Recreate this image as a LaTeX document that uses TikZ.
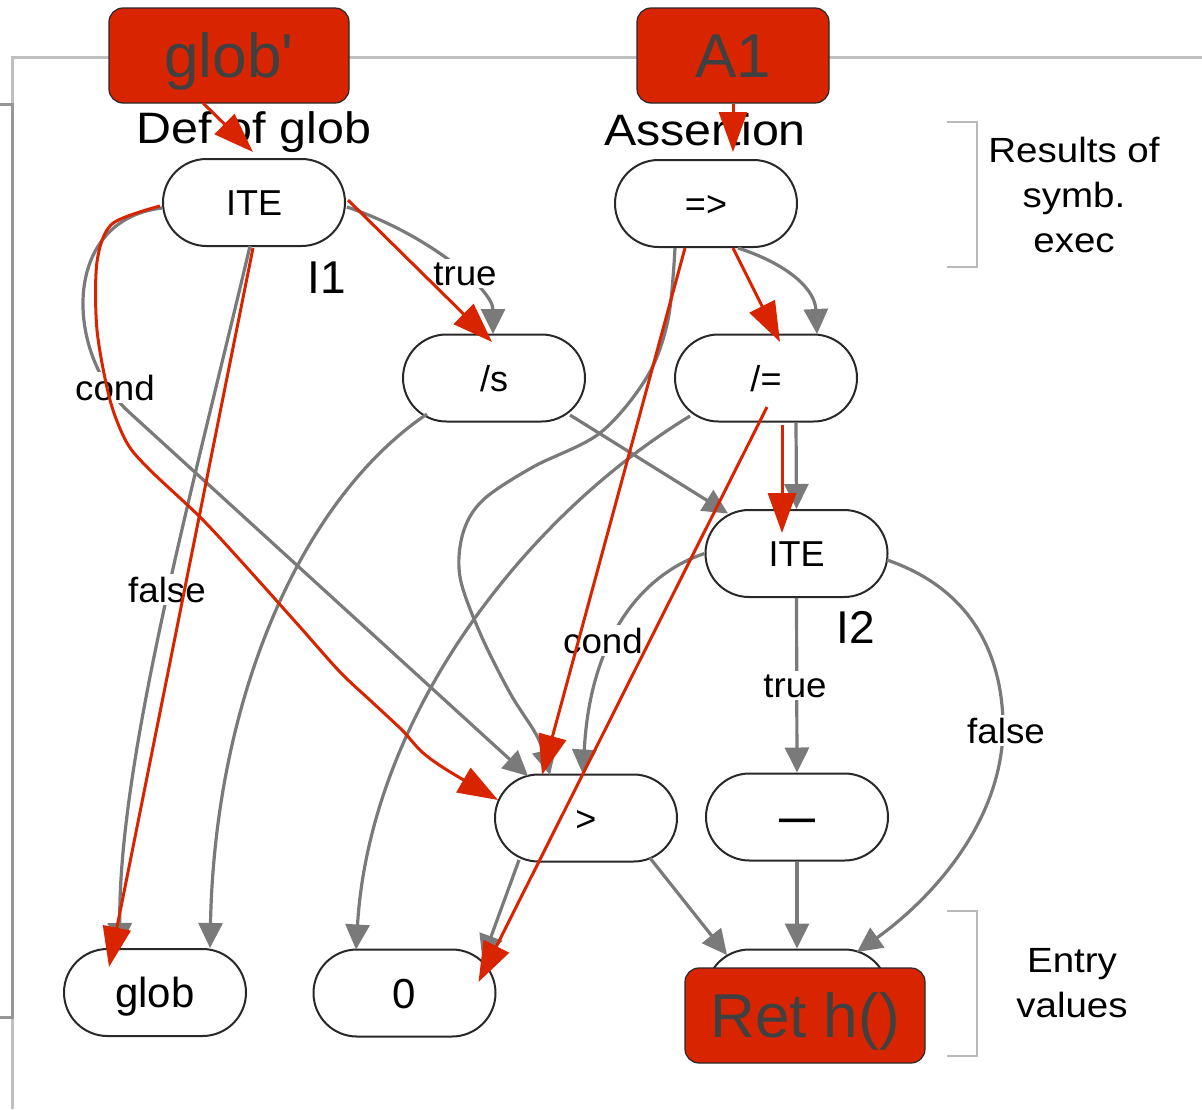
\documentclass[tikz,border=0pt]{standalone}
\usepackage{fontspec}
\setmainfont{Liberation Sans}
\newfontfamily\lblfont[FakeStretch=1.05]{Liberation Sans}
\newfontfamily\hdfont[FakeStretch=1.1]{Liberation Sans}
\newfontfamily\tagfont[Ligatures=TeXOff]{Liberation Sans}
\usetikzlibrary{shapes.misc,arrows.meta,calc}

\definecolor{annot}{RGB}{217,36,0}
\definecolor{edgegray}{RGB}{122,122,122}
\definecolor{pillline}{RGB}{40,40,40}
\definecolor{boxtext}{RGB}{64,64,64}
\definecolor{framelight}{RGB}{192,192,192}
\definecolor{framedark}{RGB}{150,150,150}
\definecolor{bracketgray}{RGB}{185,185,185}

\tikzset{
  pill/.style={rounded rectangle, draw=pillline, line width=2pt, fill=white,
    minimum width=182pt, minimum height=87pt, inner sep=0pt,
    text height=26pt, text depth=0pt, font=\fontsize{36}{43}\selectfont},
  bigpill/.style={pill, text height=30pt, font=\fontsize{42}{50}\selectfont},
  tag/.style={rectangle, rounded corners=14pt, draw=pillline, line width=1.2pt,
    fill=annot, text=boxtext, minimum width=240pt, minimum height=95pt,
    inner sep=0pt, text height=44pt, text depth=0pt,
    font=\tagfont\fontsize{62}{74}\selectfont},
  gedge/.style={draw=edgegray, line width=3.2pt, -{Triangle[length=25pt,width=24pt]}},
  redge/.style={draw=annot, line width=3pt, -{Triangle[length=40pt,width=28pt]}},
  elabel/.style={fill=white, inner sep=3pt, anchor=base,
    font=\lblfont\fontsize{35}{42}\selectfont},
  title/.style={anchor=base, inner sep=0pt, font=\hdfont\fontsize{44}{52}\selectfont},
  side/.style={align=center, anchor=north, inner sep=0pt,
    font=\hdfont\fontsize{35}{45}\selectfont},
  tagname/.style={anchor=base, inner sep=0pt, font=\fontsize{46}{55}\selectfont},
  bracket/.style={draw=bracketgray, line width=1.5pt},
}

\begin{document}
\begin{tikzpicture}[x=1pt, y=-1pt]
  \fill[white] (0,0) rectangle (1202,1109);
  \useasboundingbox (0,0) rectangle (1202,1109);

  % slide frames
  \draw[framelight, line width=3pt] (12,1109) -- (12,57) -- (1202,57);
  \draw[framedark, line width=3pt] (0,104) -- (12,104) -- (12,1017) -- (0,1017);

  % side brackets
  \draw[bracket] (947,122) -- (977,122) -- (977,267) -- (947,267);
  \draw[bracket] (947,911) -- (977,911) -- (977,1056) -- (947,1056);

  % expression nodes
  \node[pill] (ite1) at (254,202.5) {ITE};
  \node[pill] (imp) at (706,203.5) {=>};
  \node[pill] (sl) at (494,378) {/s};
  \node[pill] (ne) at (766,378) {/=};
  \node[pill] (ite2) at (796.5,553.5) {ITE};
  \node[pill] (gt) at (586,818) {>};
  \node[pill] (minus) at (797,817) {\textbf{—}};
  \node[bigpill] (glob) at (155,992.5) {glob};
  \node[bigpill] (zero) at (404.5,993) {0};
  \node[pill] (ret) at (797,993) {};

  % graph edges
  \draw[gedge] ($(ite1)+(93,4.5)$) .. controls (430,235) and (493,290) .. ($(sl)+(-1,-44)$);
  \draw[gedge] ($(ite1)+(-92,5.5)$) .. controls (60,220) and (65,355) .. (130,413) -- ($(gt)+(-58,-42)$);
  \draw[gedge] ($(ite1)+(-4,43.5)$) .. controls (195,480) and (118,760) .. ($(glob)+(-35,-44.5)$);
  \draw[gedge] ($(sl)+(-67,36)$) .. controls (300,500) and (215,700) .. ($(glob)+(55,-44.5)$);
  \draw[gedge] ($(sl)+(76,37)$) -- ($(ite2)+(-68.5,-40)$);
  \draw[gedge] ($(imp)+(32,44.5)$) .. controls (790,265) and (815,290) .. ($(ne)+(51,-44)$);
  \coordinate (g7s) at ($(imp)+(-31,44.5)$);
  \coordinate (g7e) at ($(gt)+(-36,-43)$);
  \draw[gedge] plot[smooth, tension=0.55] coordinates {(g7s) (668,320) (647,377) (600,433)
    (533,467) (483,500) (463,533) (460,577) (480,633) (510,693) (538,738) (g7e)};
  \draw[gedge] ($(ne)+(-76,38)$) .. controls (520,520) and (370,720) .. ($(zero)+(-48.5,-43.5)$);
  \draw[gedge] ($(ne.south)+(30,0)$) -- (ite2.north);
  \draw[gedge] (ite2.west) .. controls (640,575) and (590,640) .. ($(gt)+(-3,-43.5)$);
  \draw[gedge] (ite2.south) -- (minus.north);
  \draw[gedge] ($(ite2)+(90.5,6.5)$) .. controls (960,585) and (1000,640) .. (1003,720)
    .. controls (1006,820) and (930,900) .. ($(ret)+(60,-41)$);
  \draw[gedge] ($(gt)+(-67,42)$) -- ($(zero)+(78,-33)$);
  \draw[gedge] ($(gt)+(64,40)$) -- ($(ret)+(-70,-38)$);
  \draw[gedge] (minus.south) -- (ret.north);

  % edge labels
  \node[elabel] (lt1) at (465,285) {true};
  \node[elabel] (lc1) at (115,400) {cond};
  \node[elabel] (lf1) at (167,602) {false};
  \node[elabel] (lc2) at (603,653) {cond};
  \node[elabel] (lt2) at (795,697) {true};
  \node[elabel] (lf2) at (1006,743) {false};

  % titles and tags
  \node[title] (tdef) at (254,143) {Def of glob};
  \node[title] (tass) at (705,145) {Assertion};
  \node[tagname] (i1) at (327,293) {I1};
  \node[tagname] (i2) at (856,643) {I2};
  \node[side] (res) at (1074,136.5) {Results of\\symb.\\exec};
  \node[side] (entry) at (1072,948.5) {Entry\\values};

  % annotation boxes
  \node[tag] (globp) at (229,55.5) {glob'};
  \node[tag, minimum width=192pt] (a1) at (733,55.5) {A1};
  \node[tag] (reth) at (805,1015.5) {Ret h()};

  % annotation arrows
  \draw[redge] ($(globp)+(-26,47.5)$) -- ($(ite1)+(-1,-50.5)$);
  \draw[redge] (a1.south) -- ($(imp)+(27,-51.5)$);
  \draw[redge] ($(ite1)+(94,-2.5)$) -- ($(sl)+(-2,-36)$);
  \draw[redge] ($(imp)+(27,44.5)$) -- ($(ne)+(14,-36)$);
  \draw[redge] ($(imp)+(-21,44.5)$) -- ($(gt)+(-44,-43)$);
  \draw[redge] ($(ne)+(1,29)$) -- ($(zero)+(74,-11)$);
  \draw[redge] ($(ne)+(16,47)$) -- ($(ite2)+(-14.5,-20.5)$);
  \draw[redge] ($(ite1)+(-1,45.5)$) -- ($(glob)+(-46,-25.5)$);
  \coordinate (r8s) at ($(ite1)+(-94,3.5)$);
  \coordinate (r8e) at ($(gt)+(-88,-18)$);
  \draw[redge] plot[smooth, tension=0.5] coordinates {(r8s) (112,224) (97,262) (97,330)
    (110,400) (127,443) (150,470) (200,517) (240,560) (300,627) (340,672) (372,702)
    (402,730) (422,752) (447,770) (r8e)};
\end{tikzpicture}
\end{document}
